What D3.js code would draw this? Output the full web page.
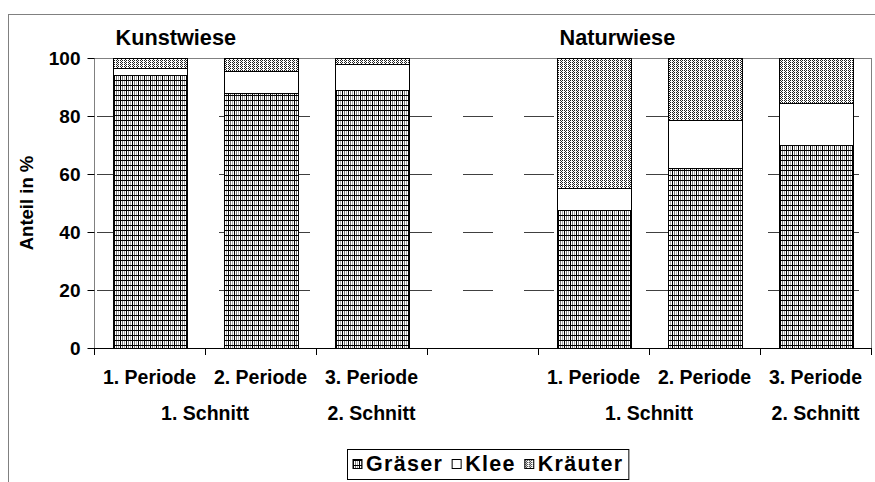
<!DOCTYPE html>
<html>
<head>
<meta charset="utf-8">
<script src="https://cdn.jsdelivr.net/npm/d3@7"></script>
<style>
  body { margin: 0; background: #fff; }
  text { font-family: 'Liberation Sans', Arial, sans-serif; font-weight: bold; fill: #000; }
</style>
</head>
<body>
<div id="chart"></div>
<script>
const width = 875
const height = 482

// data
const periods = ['1. Periode', '2. Periode', '3. Periode', '', '1. Periode', '2. Periode', '3. Periode']
const graeser = [94, 88, 89, null, 47.5, 62, 70]
const klee = [2.5, 7.5, 9, null, 7.8, 16.5, 14.5]
const kraeuter = [3.5, 4.5, 2, null, 44.7, 21.5, 15.5]
const seriesNames = ['Gräser', 'Klee', 'Kräuter']
const schnittLabels = ['1. Schnitt', '2. Schnitt', '1. Schnitt', '2. Schnitt']
const schnittSpans = [[0, 1], [2, 2], [4, 5], [6, 6]]
const groupTitles = ['Kunstwiese', 'Naturwiese']
const groupStart = [0, 4]
const yTicks = [0, 20, 40, 60, 80, 100]

const plot = { left: 94, right: 871, top: 58, bottom: 348 }

const svg = d3.select('#chart').append('svg')
  .attr('width', width)
  .attr('height', height)

// patterns
const defs = svg.append('defs')
const pGr = defs.append('pattern')
  .attr('id', 'pat-gr').attr('patternUnits', 'userSpaceOnUse')
  .attr('width', 6).attr('height', 5)
pGr.append('rect').attr('width', 6).attr('height', 5).attr('fill', '#fff')
pGr.append('rect').attr('x', 2).attr('width', 1).attr('height', 5).attr('fill', '#777')
pGr.append('rect').attr('x', 4).attr('width', 1).attr('height', 5).attr('fill', '#aaa')
pGr.append('rect').attr('x', 0).attr('width', 1).attr('height', 5).attr('fill', '#000')
pGr.append('rect').attr('y', 0).attr('width', 6).attr('height', 1).attr('fill', '#000')

const pKr = defs.append('pattern')
  .attr('id', 'pat-kr').attr('patternUnits', 'userSpaceOnUse')
  .attr('width', 4).attr('height', 2)
pKr.append('rect').attr('width', 4).attr('height', 2).attr('fill', '#fff')
pKr.append('rect').attr('x', 0).attr('y', 0).attr('width', 1).attr('height', 1).attr('fill', '#222')
pKr.append('rect').attr('x', 2).attr('y', 0).attr('width', 1).attr('height', 1).attr('fill', '#222')
pKr.append('rect').attr('x', 1).attr('y', 1).attr('width', 1).attr('height', 1).attr('fill', '#222')

const fills = ['url(#pat-gr)', '#fff', 'url(#pat-kr)']

// outer chart border
svg.append('rect')
  .attr('x', 8.5).attr('y', 14.5)
  .attr('width', 900).attr('height', 500)
  .attr('fill', 'none').attr('stroke', '#808080')

// scales
const x = d3.scaleBand()
  .domain(d3.range(periods.length))
  .range([plot.left, plot.right])
  .paddingInner(1 / 3)
  .paddingOuter(1 / 6)
const step = x.step()
const y = d3.scaleLinear().domain([0, 100]).range([plot.bottom, plot.top])

// gridlines
svg.append('g')
  .selectAll('line')
  .data(yTicks.filter(d => d > 0 && d < 100))
  .join('line')
  .attr('x1', plot.left).attr('x2', plot.right)
  .attr('y1', d => Math.round(y(d)) + 0.5).attr('y2', d => Math.round(y(d)) + 0.5)
  .attr('stroke', '#404040')
  .attr('stroke-dasharray', '30,31')
  .attr('stroke-dashoffset', -3)

// plot border
svg.append('rect')
  .attr('x', plot.left + 0.5).attr('y', plot.top + 0.5)
  .attr('width', plot.right - plot.left).attr('height', plot.bottom - plot.top)
  .attr('fill', 'none').attr('stroke', '#808080')

// stacked bars
const rows = periods.map((p, i) => ({ i, g: graeser[i], k: klee[i], r: kraeuter[i] }))
  .filter(d => d.g !== null)
const stack = d3.stack().keys(['g', 'k', 'r'])(rows)

svg.append('g')
  .selectAll('g')
  .data(stack)
  .join('g')
  .attr('fill', (d, i) => fills[i])
  .selectAll('rect')
  .data(d => d)
  .join('rect')
  .attr('x', d => Math.round(x(d.data.i)) + 0.5)
  .attr('width', Math.round(x.bandwidth()))
  .attr('y', d => Math.round(y(d[1])) + 0.5)
  .attr('height', d => Math.round(y(d[0])) - Math.round(y(d[1])))
  .attr('stroke', '#000')
  .attr('stroke-width', 1)

// y axis
const yAxis = svg.append('g')
  .attr('transform', `translate(${plot.left + 0.5},0)`)
  .call(d3.axisLeft(y).tickValues(yTicks).tickSize(7).tickPadding(7))
yAxis.select('.domain').attr('stroke', '#808080').attr('d', `M0,${plot.top}V${plot.bottom + 7}`)
yAxis.selectAll('.tick line').attr('stroke', '#000')
yAxis.selectAll('.tick text').attr('font-size', 19).attr('font-family', null)

// x axis
svg.append('line')
  .attr('x1', plot.left).attr('x2', plot.right + 1)
  .attr('y1', plot.bottom + 0.5).attr('y2', plot.bottom + 0.5)
  .attr('stroke', '#000')
svg.append('g')
  .selectAll('line')
  .data(d3.range(periods.length + 1))
  .join('line')
  .attr('x1', d => Math.round(plot.left + d * step) + 0.5)
  .attr('x2', d => Math.round(plot.left + d * step) + 0.5)
  .attr('y1', plot.bottom).attr('y2', plot.bottom + 7)
  .attr('stroke', '#000')

svg.append('g')
  .selectAll('text')
  .data(periods)
  .join('text')
  .attr('x', (d, i) => x(i) + x.bandwidth() / 2)
  .attr('y', 384)
  .attr('text-anchor', 'middle')
  .attr('font-size', 19.5)
  .text(d => d)

svg.append('g')
  .selectAll('text')
  .data(schnittLabels)
  .join('text')
  .attr('x', (d, i) => (x(schnittSpans[i][0]) + x(schnittSpans[i][1]) + x.bandwidth()) / 2)
  .attr('y', 420)
  .attr('text-anchor', 'middle')
  .attr('font-size', 19.5)
  .text(d => d)

// group titles
svg.append('g')
  .selectAll('text')
  .data(groupTitles)
  .join('text')
  .attr('x', (d, i) => x(groupStart[i]) + 3)
  .attr('y', 45)
  .attr('font-size', 21.7)
  .text(d => d)

// y title
svg.append('text')
  .attr('transform', `translate(33,${(plot.top + plot.bottom) / 2}) rotate(-90)`)
  .attr('text-anchor', 'middle')
  .attr('font-size', 18.5)
  .text('Anteil in %')

// legend
const legend = svg.append('g')
const legendItems = legend.selectAll('g')
  .data(seriesNames)
  .join('g')
legendItems.append('rect')
  .attr('width', 9).attr('height', 9)
  .attr('y', 459.5)
  .attr('fill', (d, i) => fills[i])
  .attr('stroke', '#000')
legendItems.append('text')
  .attr('x', 13)
  .attr('y', 471)
  .attr('font-size', 21.5)
  .attr('letter-spacing', 1.3)
  .text(d => d)
let lx = 353
legendItems.each(function () {
  const g = d3.select(this)
  g.attr('transform', `translate(${lx},0)`)
  lx += 13 + g.select('text').node().getComputedTextLength() + 9
})
legend.insert('rect', ':first-child')
  .attr('x', 347.5).attr('y', 449.5)
  .attr('width', lx - 9 + 5 - 347).attr('height', 30)
  .attr('fill', '#fff').attr('stroke', '#000')
</script>
</body>
</html>
